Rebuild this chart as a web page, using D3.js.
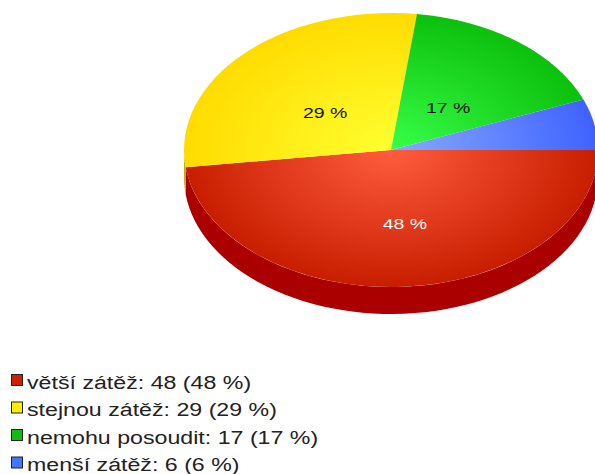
<!DOCTYPE html>
<html>
<head>
<meta charset="utf-8">
<script src="https://cdn.jsdelivr.net/npm/d3@7"></script>
<style>
  body { margin: 0; background: #fff; }
  svg { display: block; }
</style>
</head>
<body>
<svg id="chart" width="595" height="474"></svg>
<script>
// data
const categories = ["větší zátěž", "stejnou zátěž", "nemohu posoudit", "menší zátěž"]
const values = [48, 29, 17, 6]
const pctLabels = ["48 %", "29 %", "17 %", "6 %"]
const lightColors = ["#ff5c3e", "#ffff30", "#38ff48", "#88aaff"]
const darkColors = ["#c81e00", "#ffdc00", "#0cc00c", "#3f62ff"]
const sideColors = ["#aa0000", "#ccaa00", "#089008", "#2a44c0"]
const legendColors = ["#cc2200", "#ffee00", "#11bb11", "#4477ff"]

const width = 595, height = 474
const cx = 391, cy = 150, rx = 207, ry = 137, depth = 27
const ratio = ry / rx

const svg = d3.select("#chart")
const defs = svg.append("defs")

// gradients, lighter toward middle
categories.forEach((c, i) => {
  const gr = defs.append("radialGradient")
    .attr("id", "grad" + i)
    .attr("gradientUnits", "userSpaceOnUse")
    .attr("cx", 0).attr("cy", 0).attr("r", rx)
  gr.append("stop").attr("offset", "0%").attr("stop-color", lightColors[i])
  gr.append("stop").attr("offset", "100%").attr("stop-color", darkColors[i])
})

const total = d3.sum(values)
// start at 3 o'clock and go clockwise (d3 angle 0 = 12 o'clock)
const pie = d3.pie().sort(null).value(d => d).startAngle(Math.PI / 2).endAngle(Math.PI / 2 + 2 * Math.PI)
const arcs = pie(values)

const arc = d3.arc().innerRadius(0).outerRadius(rx)

const g = svg.append("g").attr("transform", `translate(${cx},${cy})`)

// side wall, only the front half is visible
function sidePath(a0, a1) {
  const s = Math.max(a0, Math.PI / 2), e = Math.min(a1, 3 * Math.PI / 2)
  if (e <= s) return null
  const steps = 60
  const pts = d3.range(steps + 1).map(k => {
    const a = s + (e - s) * k / steps
    return [rx * Math.sin(a), -rx * Math.cos(a) * ratio]
  })
  const upper = pts.map(p => p.join(",")).join(" L")
  const lower = pts.slice().reverse().map(p => [p[0], p[1] + depth].join(",")).join(" L")
  return "M" + upper + " L" + lower + " Z"
}

arcs.forEach((d, i) => {
  const p = sidePath(d.startAngle, d.endAngle)
  if (p) g.append("path").attr("d", p).attr("fill", sideColors[i])
})

const face = g.append("g").attr("transform", `scale(1,${ratio})`)
face.selectAll("path.slice")
  .data(arcs)
  .enter().append("path")
  .attr("class", "slice")
  .attr("d", arc)
  .attr("fill", (d, i) => `url(#grad${i})`)

// slice labels (text is drawn a bit wide, like the original)
const labelArc = d3.arc().innerRadius(0).outerRadius(rx * 0.9)
g.selectAll("text.pct")
  .data(arcs.filter(d => d.data >= 10))
  .enter().append("text")
  .attr("class", "pct")
  .attr("transform", d => {
    const x = labelArc.centroid(d)[0] + (d.index === 0 ? 8 : 0)
    const y = labelArc.centroid(d)[1] * ratio * 1.05 + 9 + 5
    return `translate(${x},${y}) scale(1.3,1)`
  })
  .attr("text-anchor", "middle")
  .attr("font-family", "Liberation Sans, Arial, sans-serif")
  .attr("font-size", 15)
  .attr("fill", d => d.index === 0 ? "#fff" : "#111")
  .text(d => pctLabels[d.index])

// legend
const legend = svg.append("g").attr("transform", "translate(11,374)")
const row = legend.selectAll("g")
  .data(categories)
  .enter().append("g")
  .attr("transform", (d, i) => `translate(0,${i * 27.5})`)
row.append("rect")
  .attr("x", 0.5).attr("y", 0.5)
  .attr("width", 11).attr("height", 11)
  .attr("fill", (d, i) => legendColors[i])
  .attr("stroke", "#222")
row.append("text")
  .attr("transform", "translate(16,14.5) scale(1.22,1)")
  .attr("font-family", "Liberation Sans, Arial, sans-serif")
  .attr("font-size", 19)
  .attr("fill", "#222")
  .text((d, i) => `${d}: ${values[i]} (${Math.round(values[i] / total * 100)} %)`)
</script>
</body>
</html>
